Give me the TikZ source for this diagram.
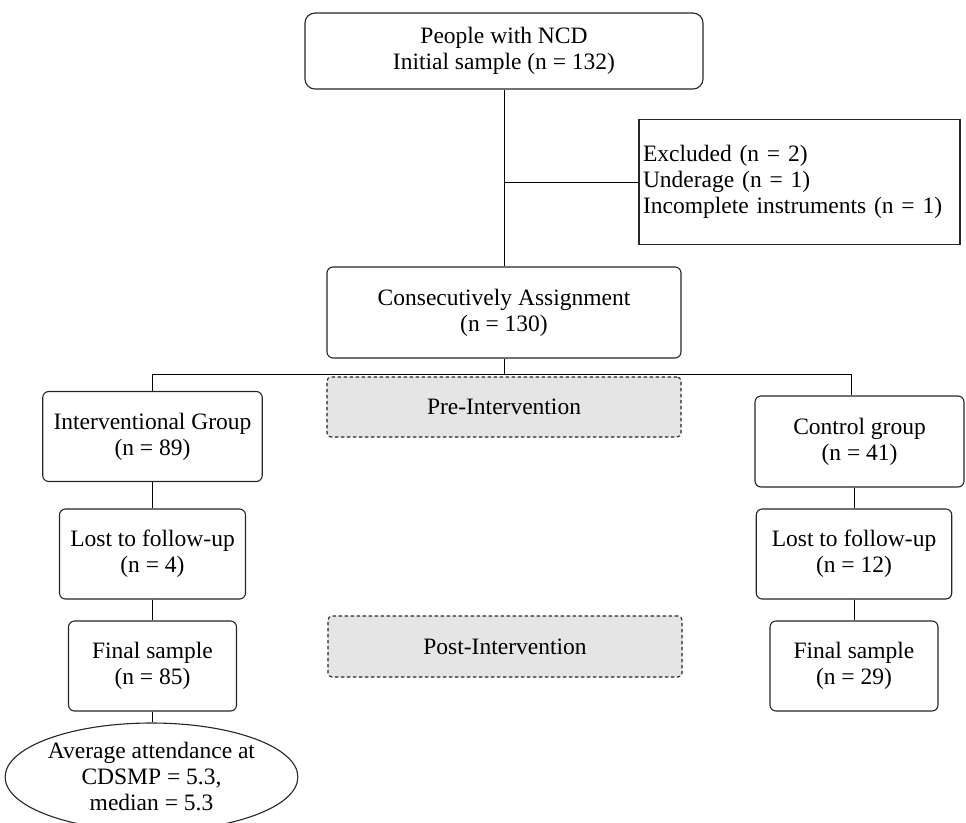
\documentclass[tikz,border=0pt]{standalone}
\usepackage{fontspec}
\setmainfont{Liberation Serif}
\usetikzlibrary{shapes.geometric}
\begin{document}
\begin{tikzpicture}[x=1pt,y=-1pt,
  every node/.style={font=\fontsize{23.5}{26}\selectfont},
  box/.style={draw=black!85, line width=1.1pt, rounded corners=6pt, align=center, inner sep=0pt, fill=white},
  sqbox/.style={draw=black!85, line width=1.1pt, align=left, inner sep=4pt, fill=white},
  phase/.style={draw=black!85, line width=1.1pt, dash pattern=on 3.5pt off 2.5pt, rounded corners=4pt, fill=black!10, align=center, inner sep=0pt},
  oval/.style={draw=black!85, line width=1.1pt, ellipse, align=center, inner sep=0pt, fill=white},
  link/.style={draw=black, line width=1pt}]
\useasboundingbox (0,0) rectangle (966,822);

% top part
\node[box, rounded corners=10pt, minimum width=398pt, minimum height=76pt] (top) at (504,51) {People with NCD\\Initial sample (n = 132)};
\node[sqbox, text width=313pt, minimum height=125.5pt] (excl) at (799.5,182) {Excluded (n = 2)\\Underage (n = 1)\\Incomplete instruments (n = 1)};
\node[box, minimum width=354pt, minimum height=91pt] (consec) at (504,312.5) {Consecutively Assignment\\(n = 130)};

% phases
\node[phase, minimum width=354pt, minimum height=60pt] (pre) at (504,407) {Pre-Intervention};
\node[phase, minimum width=354pt, minimum height=61pt] (post) at (505,646.5) {Post-Intervention};

% left column
\node[box, minimum width=219.5pt, minimum height=90pt] (interv) at (152.5,436.5) {Interventional Group\\(n = 89)};
\node[box, minimum width=186pt, minimum height=90pt] (lostA) at (152.5,554) {Lost to follow-up\\(n = 4)};
\node[box, minimum width=168pt, minimum height=90pt] (finalA) at (152.5,666) {Final sample\\(n = 85)};
\node[oval, minimum width=271pt, minimum height=108pt] (avg) at (151.5,777) {Average attendance at\\CDSMP = 5.3,\\median = 5.3};

% right column
\node[box, minimum width=209pt, minimum height=91pt] (ctrl) at (859.5,441.5) {Control group\\(n = 41)};
\node[box, minimum width=195.5pt, minimum height=90pt] (lostB) at (854,554) {Lost to follow-up\\(n = 12)};
\node[box, minimum width=168pt, minimum height=90pt] (finalB) at (854,666) {Final sample\\(n = 29)};

% connectors
\coordinate (j1) at (504,182);
\coordinate (bl) at (152.5,374);
\coordinate (br) at (851,374);
\draw[link] (top.south) -- (consec.north);
\draw[link] (j1) -- (excl.west);
\draw[link] (consec.south) -- (consec.south |- bl);
\draw[link] (bl) -- (br);
\draw[link] (bl) -- (interv.north);
\draw[link] (br) -- (br |- ctrl.north);
\draw[link] (interv.south) -- (lostA.north);
\draw[link] (lostA.south) -- (finalA.north);
\draw[link] (finalA.south) -- (finalA.south |- avg.north);
\draw[link] (lostB.north |- ctrl.south) -- (lostB.north);
\draw[link] (lostB.south) -- (finalB.north);
\end{tikzpicture}
\end{document}
